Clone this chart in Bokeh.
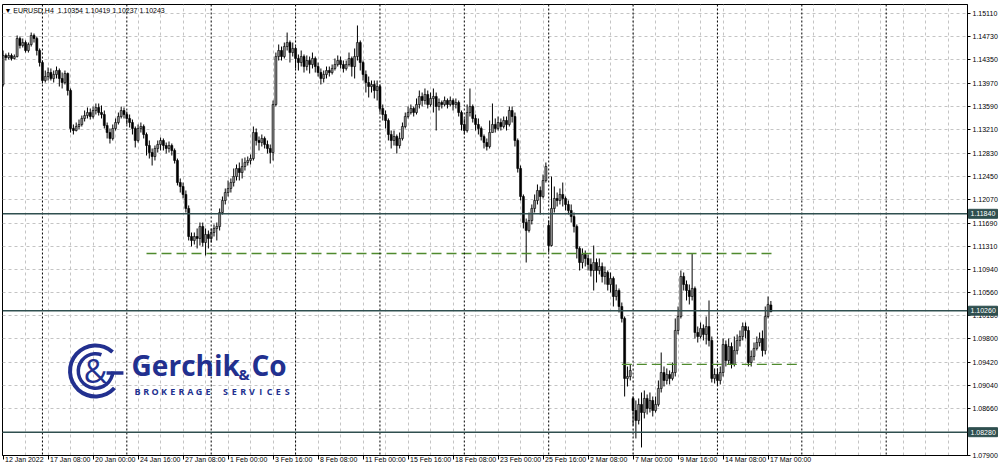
import math
from bokeh.plotting import figure
from bokeh.models import Range1d, FixedTicker, Span, Label, ColumnDataSource, NumeralTickFormatter
from bokeh.embed import file_html
from bokeh.resources import INLINE

symbol = "EURUSD,H4"

time_label_bars = [0, 16, 32, 48, 64, 80, 96, 112, 128, 144, 160, 176, 192, 208, 224, 240, 256, 272]
time_labels = ["12 Jan 2022", "17 Jan 08:00", "20 Jan 00:00", "24 Jan 16:00", "27 Jan 08:00",
               "1 Feb 00:00", "3 Feb 16:00", "8 Feb 08:00", "11 Feb 00:00", "15 Feb 16:00",
               "18 Feb 08:00", "23 Feb 00:00", "25 Feb 16:00", "2 Mar 08:00", "7 Mar 00:00",
               "9 Mar 16:00", "14 Mar 08:00", "17 Mar 00:00"]
week_start_bars = [14, 44, 74, 104, 134, 164, 194, 224, 254, 284, 314]

price_ticks = [1.15110, 1.14730, 1.14350, 1.13970, 1.13590, 1.13210, 1.12830, 1.12450, 1.12070,
               1.11690, 1.11310, 1.10940, 1.10560, 1.10180, 1.09800, 1.09420, 1.09040, 1.08660,
               1.08280, 1.07900]

levels = [1.11840, 1.10260, 1.08280]
dash_prices = [1.11193, 1.09384]
dash_start = [51, 220]
dash_end = [275, 283.5]

opens = [
 1.13948, 1.14421, 1.14388, 1.14421, 1.14372, 1.14404, 1.14698, 1.14584, 1.14632, 1.14502,
 1.14600, 1.14747, 1.14698, 1.14502, 1.14306, 1.14013, 1.14078, 1.14143, 1.14046, 1.14111,
 1.14176, 1.14046, 1.13980, 1.14127, 1.13850, 1.13231, 1.13198, 1.13263, 1.13296, 1.13394,
 1.13442, 1.13491, 1.13426, 1.13524, 1.13573, 1.13491, 1.13459, 1.13279, 1.13165, 1.13068,
 1.13231, 1.13328, 1.13426, 1.13524, 1.13459, 1.13394, 1.13328, 1.13231, 1.13035, 1.13231,
 1.13263, 1.13133, 1.12953, 1.12839, 1.12774, 1.12905, 1.12970, 1.13035, 1.12953, 1.12905,
 1.12953, 1.12872, 1.12709, 1.12350, 1.12285, 1.12155, 1.11927, 1.11470, 1.11405, 1.11470,
 1.11438, 1.11633, 1.11372, 1.11503, 1.11438, 1.11535, 1.11601, 1.11633, 1.11861, 1.12057,
 1.12187, 1.12253, 1.12350, 1.12448, 1.12579, 1.12513, 1.12611, 1.12676, 1.12709, 1.12741,
 1.13165, 1.13035, 1.13002, 1.13068, 1.12970, 1.12905, 1.12839, 1.13622, 1.14404, 1.14502,
 1.14404, 1.14567, 1.14632, 1.14469, 1.14535, 1.14372, 1.14306, 1.14404, 1.14241, 1.14339,
 1.14274, 1.14372, 1.14241, 1.14143, 1.14046, 1.14111, 1.14176, 1.14143, 1.14209, 1.14274,
 1.14339, 1.14274, 1.14209, 1.14274, 1.14372, 1.14241, 1.14404, 1.14632, 1.14306, 1.14111,
 1.13980, 1.13915, 1.13948, 1.13850, 1.13915, 1.13557, 1.13459, 1.13361, 1.13133, 1.13035,
 1.13100, 1.12953, 1.13068, 1.13263, 1.13426, 1.13491, 1.13557, 1.13491, 1.13622, 1.13752,
 1.13687, 1.13785, 1.13622, 1.13720, 1.13752, 1.13589, 1.13654, 1.13622, 1.13687, 1.13622,
 1.13687, 1.13622, 1.13654, 1.13491, 1.13296, 1.13198, 1.13491, 1.13589, 1.13394, 1.13296,
 1.13231, 1.13100, 1.13002, 1.12937, 1.13165, 1.13296, 1.13231, 1.13328, 1.13263, 1.13361,
 1.13296, 1.13524, 1.13426, 1.13035, 1.12579, 1.12122, 1.11698, 1.11568, 1.11731, 1.11927,
 1.12057, 1.12220, 1.12122, 1.12383, 1.11649, 1.11323, 1.11927, 1.12090, 1.12057, 1.12155,
 1.12090, 1.11992, 1.11894, 1.11796, 1.11633, 1.11275, 1.11046, 1.11177, 1.11112, 1.11014,
 1.10916, 1.11046, 1.10916, 1.10981, 1.10818, 1.10883, 1.10688, 1.10786, 1.10492, 1.10590,
 1.10329, 1.10134, 1.09156, 1.09188, 1.08830, 1.08634, 1.08471, 1.08732, 1.08601, 1.08830,
 1.08667, 1.08797, 1.08634, 1.08732, 1.08993, 1.09253, 1.09123, 1.09221, 1.09156, 1.09253,
 1.09938, 1.10166, 1.10818, 1.10688, 1.10590, 1.10492, 1.10623, 1.09905, 1.09840, 1.09971,
 1.09873, 1.10003, 1.09775, 1.09156, 1.09221, 1.09123, 1.09253, 1.09710, 1.09449, 1.09677,
 1.09384, 1.09612, 1.09775, 1.09840, 1.10003, 1.09938, 1.09416, 1.09514, 1.09645, 1.09742,
 1.09808, 1.09612, 1.10166, 1.10354]

highs = [
 1.14502, 1.14453, 1.14469, 1.14453, 1.14437, 1.14747, 1.14730, 1.14698, 1.14665, 1.14632,
 1.14795, 1.14779, 1.14730, 1.14535, 1.14339, 1.14176, 1.14225, 1.14209, 1.14176, 1.14241,
 1.14209, 1.14143, 1.14176, 1.14143, 1.13883, 1.13296, 1.13328, 1.13377, 1.13442, 1.13524,
 1.13573, 1.13557, 1.13589, 1.13638, 1.13638, 1.13606, 1.13524, 1.13328, 1.13231, 1.13296,
 1.13394, 1.13491, 1.13589, 1.13573, 1.13508, 1.13459, 1.13377, 1.13263, 1.13296, 1.13328,
 1.13296, 1.13165, 1.13035, 1.12905, 1.12953, 1.13035, 1.13084, 1.13068, 1.13002, 1.13019,
 1.12986, 1.12905, 1.12741, 1.12416, 1.12350, 1.12220, 1.11976, 1.11535, 1.11535, 1.11601,
 1.11698, 1.11698, 1.11601, 1.11568, 1.11601, 1.11666, 1.11698, 1.11927, 1.12122, 1.12253,
 1.12383, 1.12416, 1.12579, 1.12644, 1.12676, 1.12741, 1.12758, 1.12774, 1.12807, 1.13263,
 1.13231, 1.13100, 1.13133, 1.13100, 1.13035, 1.12970, 1.13687, 1.14469, 1.14600, 1.14567,
 1.14632, 1.14795, 1.14665, 1.14632, 1.14567, 1.14437, 1.14502, 1.14437, 1.14421, 1.14404,
 1.14469, 1.14404, 1.14306, 1.14209, 1.14176, 1.14241, 1.14241, 1.14274, 1.14372, 1.14421,
 1.14404, 1.14339, 1.14339, 1.14469, 1.14404, 1.14535, 1.14910, 1.14665, 1.14339, 1.14176,
 1.14078, 1.14013, 1.14013, 1.14013, 1.13948, 1.13622, 1.13524, 1.13394, 1.13198, 1.13198,
 1.13133, 1.13165, 1.13328, 1.13491, 1.13589, 1.13622, 1.13589, 1.13720, 1.13850, 1.13817,
 1.13883, 1.13850, 1.13817, 1.13883, 1.13817, 1.13720, 1.13687, 1.13752, 1.13720, 1.13752,
 1.13720, 1.13720, 1.13687, 1.13524, 1.13394, 1.13622, 1.13883, 1.13622, 1.13459, 1.13394,
 1.13263, 1.13133, 1.13068, 1.13361, 1.13638, 1.13394, 1.13426, 1.13394, 1.13426, 1.13426,
 1.13589, 1.13589, 1.13491, 1.13068, 1.12627, 1.12155, 1.11763, 1.11861, 1.11992, 1.12155,
 1.12318, 1.12285, 1.12481, 1.12676, 1.11731, 1.12448, 1.12285, 1.12187, 1.12253, 1.12350,
 1.12122, 1.12057, 1.11992, 1.11861, 1.11666, 1.11307, 1.11275, 1.11242, 1.11177, 1.11112,
 1.11323, 1.11112, 1.11112, 1.11046, 1.10981, 1.10916, 1.10883, 1.10818, 1.10688, 1.10623,
 1.10394, 1.10166, 1.09351, 1.09384, 1.08862, 1.08797, 1.08830, 1.08927, 1.08960, 1.08895,
 1.08927, 1.08862, 1.08862, 1.09123, 1.09579, 1.09351, 1.09319, 1.09286, 1.09416, 1.10134,
 1.10329, 1.10916, 1.10883, 1.10753, 1.10688, 1.11193, 1.10655, 1.10003, 1.10068, 1.10036,
 1.10166, 1.10427, 1.09840, 1.09319, 1.09319, 1.09351, 1.09808, 1.09775, 1.09808, 1.09742,
 1.09840, 1.09873, 1.09938, 1.10068, 1.10068, 1.10003, 1.09612, 1.09742, 1.09840, 1.09905,
 1.09938, 1.10329, 1.10492, 1.10419]

lows = [
 1.13915, 1.14339, 1.14355, 1.14339, 1.14355, 1.14388, 1.14535, 1.14551, 1.14469, 1.14469,
 1.14567, 1.14632, 1.14421, 1.14241, 1.13964, 1.13980, 1.14013, 1.14013, 1.13980, 1.14046,
 1.13915, 1.13883, 1.13948, 1.13769, 1.13165, 1.13133, 1.13182, 1.13214, 1.13263, 1.13345,
 1.13394, 1.13377, 1.13394, 1.13459, 1.13442, 1.13394, 1.13231, 1.13068, 1.12986, 1.13035,
 1.13198, 1.13296, 1.13394, 1.13394, 1.13296, 1.13247, 1.13133, 1.12921, 1.13002, 1.13165,
 1.13068, 1.12790, 1.12741, 1.12627, 1.12709, 1.12839, 1.12872, 1.12872, 1.12823, 1.12839,
 1.12790, 1.12660, 1.12302, 1.12187, 1.12090, 1.11861, 1.11405, 1.11307, 1.11340, 1.11275,
 1.11323, 1.11307, 1.11160, 1.11275, 1.11372, 1.11470, 1.11405, 1.11568, 1.11829, 1.11992,
 1.12122, 1.12187, 1.12285, 1.12383, 1.12383, 1.12416, 1.12546, 1.12627, 1.12644, 1.12709,
 1.12953, 1.12872, 1.12937, 1.12905, 1.12823, 1.12660, 1.12709, 1.13589, 1.14339, 1.14339,
 1.14372, 1.14502, 1.14306, 1.14404, 1.14209, 1.14176, 1.14241, 1.14143, 1.14176, 1.14127,
 1.14209, 1.14143, 1.14078, 1.13948, 1.13980, 1.14046, 1.14078, 1.14111, 1.14176, 1.14241,
 1.14209, 1.14143, 1.14176, 1.14241, 1.14078, 1.14046, 1.14339, 1.14176, 1.14013, 1.13817,
 1.13736, 1.13817, 1.13720, 1.13687, 1.13491, 1.13361, 1.13231, 1.13035, 1.12905, 1.12953,
 1.12823, 1.12905, 1.13035, 1.13231, 1.13394, 1.13459, 1.13426, 1.13459, 1.13557, 1.13589,
 1.13622, 1.13557, 1.13589, 1.13491, 1.13198, 1.13524, 1.13557, 1.13589, 1.13557, 1.13589,
 1.13524, 1.13557, 1.13426, 1.13198, 1.13133, 1.13165, 1.13426, 1.13328, 1.13198, 1.13133,
 1.13035, 1.12905, 1.12872, 1.12905, 1.13165, 1.13165, 1.13198, 1.13198, 1.13231, 1.13198,
 1.13263, 1.13328, 1.12937, 1.12513, 1.12057, 1.11601, 1.11046, 1.11535, 1.11666, 1.11861,
 1.11992, 1.11829, 1.12090, 1.12350, 1.11209, 1.11307, 1.11861, 1.11959, 1.11992, 1.11959,
 1.11894, 1.11829, 1.11698, 1.11535, 1.11112, 1.10916, 1.10949, 1.10981, 1.10916, 1.10818,
 1.10590, 1.10720, 1.10851, 1.10720, 1.10688, 1.10590, 1.10557, 1.10329, 1.10427, 1.10231,
 1.10068, 1.08862, 1.09025, 1.09123, 1.08390, 1.08178, 1.08406, 1.08031, 1.08504, 1.08569,
 1.08601, 1.08536, 1.08601, 1.08699, 1.08927, 1.09025, 1.09058, 1.09058, 1.09123, 1.09188,
 1.09873, 1.10134, 1.10590, 1.10427, 1.10362, 1.10427, 1.09808, 1.09742, 1.09808, 1.09775,
 1.09710, 1.09677, 1.09090, 1.09074, 1.09042, 1.09058, 1.09188, 1.09351, 1.09384, 1.09319,
 1.09351, 1.09547, 1.09677, 1.09775, 1.09808, 1.09351, 1.09351, 1.09449, 1.09612, 1.09677,
 1.09514, 1.09547, 1.10134, 1.10237]

closes = [
 1.14421, 1.14388, 1.14421, 1.14372, 1.14404, 1.14698, 1.14584, 1.14632, 1.14502, 1.14600,
 1.14747, 1.14698, 1.14502, 1.14306, 1.14013, 1.14078, 1.14143, 1.14046, 1.14111, 1.14176,
 1.14046, 1.13980, 1.14127, 1.13850, 1.13231, 1.13198, 1.13263, 1.13296, 1.13394, 1.13442,
 1.13491, 1.13426, 1.13524, 1.13573, 1.13491, 1.13459, 1.13279, 1.13165, 1.13068, 1.13231,
 1.13328, 1.13426, 1.13524, 1.13459, 1.13394, 1.13328, 1.13231, 1.13035, 1.13231, 1.13263,
 1.13133, 1.12953, 1.12839, 1.12774, 1.12905, 1.12970, 1.13035, 1.12953, 1.12905, 1.12953,
 1.12872, 1.12709, 1.12350, 1.12285, 1.12155, 1.11927, 1.11470, 1.11405, 1.11470, 1.11438,
 1.11633, 1.11372, 1.11503, 1.11438, 1.11535, 1.11601, 1.11633, 1.11861, 1.12057, 1.12187,
 1.12253, 1.12350, 1.12448, 1.12579, 1.12513, 1.12611, 1.12676, 1.12709, 1.12741, 1.13165,
 1.13035, 1.13002, 1.13068, 1.12970, 1.12905, 1.12839, 1.13622, 1.14404, 1.14502, 1.14404,
 1.14567, 1.14632, 1.14469, 1.14535, 1.14372, 1.14306, 1.14404, 1.14241, 1.14339, 1.14274,
 1.14372, 1.14241, 1.14143, 1.14046, 1.14111, 1.14176, 1.14143, 1.14209, 1.14274, 1.14339,
 1.14274, 1.14209, 1.14274, 1.14372, 1.14241, 1.14404, 1.14632, 1.14306, 1.14111, 1.13980,
 1.13915, 1.13948, 1.13850, 1.13915, 1.13557, 1.13459, 1.13361, 1.13133, 1.13035, 1.13100,
 1.12953, 1.13068, 1.13263, 1.13426, 1.13491, 1.13557, 1.13491, 1.13622, 1.13752, 1.13687,
 1.13785, 1.13622, 1.13720, 1.13752, 1.13589, 1.13654, 1.13622, 1.13687, 1.13622, 1.13687,
 1.13622, 1.13654, 1.13491, 1.13296, 1.13198, 1.13491, 1.13589, 1.13394, 1.13296, 1.13231,
 1.13100, 1.13002, 1.12937, 1.13165, 1.13296, 1.13231, 1.13328, 1.13263, 1.13361, 1.13296,
 1.13524, 1.13426, 1.13035, 1.12579, 1.12122, 1.11698, 1.11568, 1.11731, 1.11927, 1.12057,
 1.12220, 1.12122, 1.12383, 1.12611, 1.11323, 1.11927, 1.12090, 1.12057, 1.12155, 1.12090,
 1.11992, 1.11894, 1.11796, 1.11633, 1.11275, 1.11046, 1.11177, 1.11112, 1.11014, 1.10916,
 1.11046, 1.10916, 1.10981, 1.10818, 1.10883, 1.10688, 1.10786, 1.10492, 1.10590, 1.10329,
 1.10134, 1.09156, 1.09188, 1.09286, 1.08634, 1.08471, 1.08732, 1.08601, 1.08830, 1.08667,
 1.08797, 1.08634, 1.08732, 1.08993, 1.09253, 1.09123, 1.09221, 1.09156, 1.09253, 1.09938,
 1.10166, 1.10818, 1.10688, 1.10590, 1.10492, 1.10623, 1.09905, 1.09840, 1.09971, 1.09873,
 1.10003, 1.09775, 1.09156, 1.09221, 1.09123, 1.09253, 1.09710, 1.09449, 1.09677, 1.09384,
 1.09612, 1.09775, 1.09840, 1.10003, 1.09938, 1.09416, 1.09514, 1.09645, 1.09742, 1.09808,
 1.09612, 1.10166, 1.10362, 1.10243]

brand = "Gerchik"
brand_tail = "Co"
tagline = "BROKERAGE SERVICES"

# ---------------------------------------------------------------
W, H = 1000, 471
B_LEFT, B_RIGHT, B_TOP, B_BOTTOM = 2, 33, 4, 16
FRAME_W = W - B_LEFT - B_RIGHT
X_START = -0.2
X_END = X_START + FRAME_W / 2.8125
Y_LOW, Y_HIGH = 1.07900, 1.15252
PX = FRAME_W / (X_END - X_START)          # pixels per bar
NAVY = "#22308f"
FONT = "Liberation Sans"

p = figure(width=W, height=H, output_backend="svg", toolbar_location=None,
           x_range=Range1d(X_START, X_END), y_range=Range1d(Y_LOW, Y_HIGH),
           x_axis_location="below", y_axis_location="right",
           min_border_left=B_LEFT, min_border_right=B_RIGHT,
           min_border_top=B_TOP, min_border_bottom=B_BOTTOM)
p.outline_line_color = "black"
p.outline_line_width = 1
p.background_fill_color = "white"
p.border_fill_color = "white"

# grid
p.xgrid.ticker = FixedTicker(ticks=list(range(8, 345, 8)))
p.ygrid.ticker = FixedTicker(ticks=price_ticks)
p.grid.grid_line_color = "#c4c4c4"
p.grid.grid_line_dash = "3 3"
p.grid.grid_line_width = 1

# axes
p.xaxis.ticker = FixedTicker(ticks=time_label_bars)
p.xaxis.major_label_overrides = {b: "\u00a0" + s for b, s in zip(time_label_bars, time_labels)}
p.xaxis.major_label_orientation = -0.0001
p.xaxis.major_tick_out = 4
p.xaxis.major_tick_in = 0
p.xaxis.minor_tick_line_color = None
p.xaxis.major_label_standoff = 0
p.yaxis.ticker = FixedTicker(ticks=price_ticks)
p.yaxis.formatter = NumeralTickFormatter(format="0.00000")
p.yaxis.major_tick_out = 3
p.yaxis.major_tick_in = 0
p.yaxis.minor_tick_line_color = None
p.yaxis.major_label_standoff = 2
for ax in (p.xaxis, p.yaxis):
    ax.major_label_text_font = FONT
    ax.major_label_text_font_size = "7px"
    ax.major_label_text_color = "black"
    ax.axis_line_color = "black"
    ax.major_tick_line_color = "black"

# week separators
for w in week_start_bars:
    p.add_layout(Span(location=w, dimension="height", line_color="black",
                      line_dash="2 2", line_width=1))

# candles
n = len(closes)
bars = list(range(n))
src = ColumnDataSource(dict(
    x=bars, o=opens, h=highs, l=lows, c=closes,
    top=[max(o, c) for o, c in zip(opens, closes)],
    bottom=[min(o, c) for o, c in zip(opens, closes)],
    fill=["#8a8a8a" if c >= o else "black" for o, c in zip(opens, closes)],
))
p.segment(x0="x", y0="l", x1="x", y1="h", line_color="black", line_width=1, source=src)
p.vbar(x="x", width=0.72, top="top", bottom="bottom", fill_color="fill",
       line_color="black", line_width=0.6, source=src)

# support / resistance levels
for lv in levels:
    p.add_layout(Span(location=lv, dimension="width", line_color="#2f4f4f", line_width=1.5))
p.segment(x0=dash_start, y0=dash_prices, x1=dash_end, y1=dash_prices,
          line_color="#4f8a2e", line_dash="10 5", line_width=1.3)

# price tags of the levels, drawn on the overlay level beside the price scale
tag_src = ColumnDataSource(dict(
    x=[X_END + 15.5 / PX] * len(levels), xt=[X_END] * len(levels), y=levels,
    t=[f"{lv:.5f}" for lv in levels]))
p.rect(x="x", y="y", width=29, height=9, width_units="screen", height_units="screen",
       fill_color="#2f4f4f", line_color="#2f4f4f", source=tag_src, level="overlay")
p.text(x="xt", y="y", text="t", x_offset=3, text_baseline="middle", text_color="white",
       text_font_size="7px", text_font={"value": FONT}, source=tag_src, level="overlay")

# header
header = "\u25BC " + symbol + "\u00a0\u00a0" + " ".join(f"{v:.5f}" for v in (opens[-1], highs[-1], lows[-1], closes[-1]))
p.add_layout(Label(x=0.5, y=1.15162, text=header, text_font=FONT, text_font_size="7px",
                   text_color="black", text_baseline="middle"))

# logo
cx, cy = 32.87, 1.09278
p.annular_wedge(x=[cx], y=[cy], inner_radius=23.5, outer_radius=27.5,
                inner_radius_units="screen", outer_radius_units="screen",
                start_angle=math.radians(48), end_angle=math.radians(318),
                color=NAVY, line_color=None)
p.annular_wedge(x=[cx], y=[cy], inner_radius=15.5, outer_radius=19,
                inner_radius_units="screen", outer_radius_units="screen",
                start_angle=math.radians(70), end_angle=math.radians(358),
                color=NAVY, line_color=None)
p.segment(x0=[36.8], y0=[1.09245], x1=[42.8], y1=[1.09245], line_color=NAVY, line_width=3.5)
p.add_layout(Label(x=cx, y=cy, text="&", text_align="center", text_baseline="middle",
                   text_font="Open Sans", text_font_size="32px", text_color=NAVY))
p.add_layout(Label(x=45.7, y=1.09066, text=brand, text_font="Open Sans",
                   text_font_style="bold", text_font_size="28px", text_color=NAVY))
p.add_layout(Label(x=83.7, y=1.09066, text="&", text_font="Open Sans",
                   text_font_style="bold", text_font_size="15px", text_color=NAVY))
p.add_layout(Label(x=88.3, y=1.09066, text=brand_tail, text_font="Open Sans",
                   text_font_style="bold", text_font_size="28px", text_color=NAVY))
for k, ch in enumerate(tagline):
    if ch != " ":
        p.add_layout(Label(x=47.8 + k * 3.129, y=1.08830, text=ch, text_align="center",
                           text_font="Open Sans", text_font_style="bold",
                           text_font_size="9px", text_color=NAVY))

open("out.html", "w").write(file_html(p, INLINE))
